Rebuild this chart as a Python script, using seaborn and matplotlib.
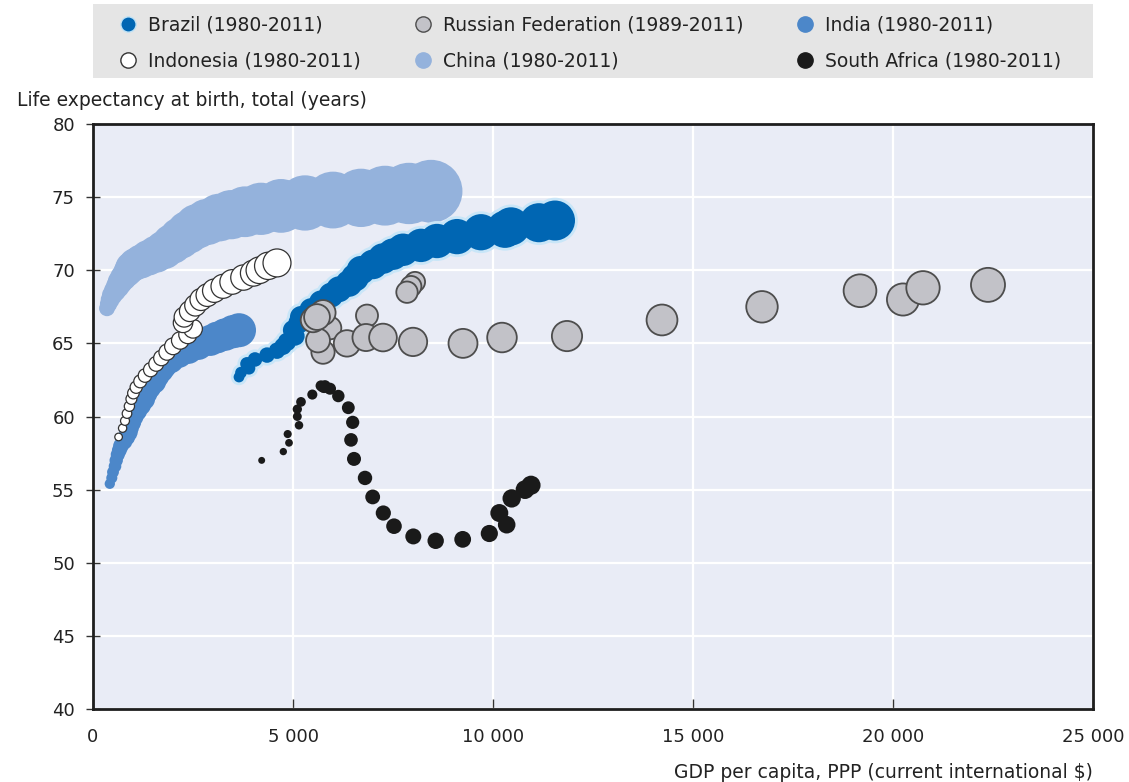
import numpy as np
import pandas as pd
import matplotlib
matplotlib.use('Agg')
import matplotlib.pyplot as plt
from matplotlib.lines import Line2D
from matplotlib.patches import Rectangle
import seaborn as sns

# ---- data ----
years_80 = list(range(1980, 2012))
years_89 = list(range(1989, 2012))

china_gdp = [350, 390, 430, 480, 550, 620, 680, 760, 850, 900, 950, 1050, 1200, 1380, 1580, 1780,
             1980, 2180, 2380, 2600, 2850, 3150, 3450, 3800, 4200, 4700, 5300, 6000, 6700, 7300, 7900, 8450]
china_life = [67.4, 67.7, 68.0, 68.3, 68.6, 68.9, 69.2, 69.5, 69.8, 70.0, 70.2, 70.4, 70.6, 70.85, 71.1, 71.4,
              71.8, 72.2, 72.6, 73.0, 73.3, 73.6, 73.8, 74.0, 74.2, 74.4, 74.6, 74.8, 74.95, 75.1, 75.25, 75.4]

india_gdp = [420, 470, 500, 550, 580, 620, 660, 700, 780, 840, 890, 910, 960, 1010, 1090, 1180,
             1270, 1320, 1400, 1520, 1590, 1690, 1760, 1930, 2140, 2380, 2630, 2930, 3100, 3300, 3500, 3650]
india_life = [55.4, 55.8, 56.2, 56.6, 57.0, 57.4, 57.7, 58.0, 58.3, 58.6, 58.9, 59.2, 59.6, 60.0, 60.4, 60.8,
              61.2, 61.6, 62.0, 62.4, 62.8, 63.2, 63.5, 63.9, 64.3, 64.6, 64.9, 65.2, 65.4, 65.6, 65.8, 65.9]

brazil_gdp = [3650, 3700, 3900, 3850, 4050, 4350, 4600, 4750, 4850, 5050, 5000, 5150, 5200, 5450, 5700, 5950,
              6150, 6400, 6550, 6700, 7000, 7250, 7500, 7750, 8200, 8600, 9100, 9700, 10300, 10450, 11150, 11550]
brazil_life = [62.7, 63.0, 63.3, 63.6, 63.9, 64.2, 64.5, 64.8, 65.1, 65.5, 65.9, 66.4, 66.8, 67.3, 67.8, 68.3,
               68.7, 69.1, 69.5, 70.0, 70.4, 70.8, 71.1, 71.4, 71.7, 72.0, 72.3, 72.6, 72.8, 73.0, 73.25, 73.4]

indonesia_gdp = [640, 740, 800, 850, 910, 960, 1010, 1080, 1180, 1300, 1440, 1580, 1710, 1850, 2000, 2180,
                 2370, 2500, 2250, 2280, 2420, 2560, 2700, 2860, 3030, 3250, 3480, 3760, 4010, 4160, 4380, 4600]
indonesia_life = [58.6, 59.2, 59.7, 60.2, 60.7, 61.2, 61.6, 62.0, 62.4, 62.8, 63.2, 63.6, 64.0, 64.4, 64.8, 65.2,
                  65.6, 66.0, 66.4, 66.8, 67.2, 67.6, 68.0, 68.3, 68.6, 68.9, 69.2, 69.5, 69.8, 70.0, 70.3, 70.5]

russia_gdp = [8050, 7950, 7850, 6850, 5925, 5750, 5625, 5500, 5750, 5600, 6350, 6825, 7250, 8000,
              9250, 10225, 11850, 14225, 16725, 20250, 19175, 20750, 22375]
russia_life = [69.2, 68.9, 68.5, 66.9, 66.05, 64.4, 65.2, 66.6, 67.1, 66.8, 65.0, 65.4, 65.4, 65.1,
               65.0, 65.4, 65.5, 66.6, 67.5, 68.0, 68.6, 68.8, 69.0]

safrica_gdp = [4217, 4758, 4900, 4867, 5150, 5108, 5108, 5200, 5483, 5742, 5700, 5800, 5780, 5925, 6133, 6383,
               6492, 6450, 6525, 6800, 6992, 7258, 7525, 8008, 8567, 9242, 9908, 10342, 10158, 10467, 10800, 10950]
safrica_life = [57.0, 57.6, 58.2, 58.8, 59.4, 60.0, 60.5, 61.0, 61.5, 62.0, 62.1, 62.1, 62.0, 61.9, 61.4, 60.6,
                59.6, 58.4, 57.1, 55.8, 54.5, 53.4, 52.5, 51.8, 51.5, 51.6, 52.0, 52.6, 53.4, 54.4, 55.0, 55.3]

x_ticks = [0, 5000, 10000, 15000, 20000, 25000]
x_labels = ['0', '5 000', '10 000', '15 000', '20 000', '25 000']
y_ticks = [40, 45, 50, 55, 60, 65, 70, 75, 80]

frames = []
for name, yrs, g, l in [('China', years_80, china_gdp, china_life),
                        ('India', years_80, india_gdp, india_life),
                        ('Brazil', years_80, brazil_gdp, brazil_life),
                        ('Indonesia', years_80, indonesia_gdp, indonesia_life),
                        ('Russian Federation', years_89, russia_gdp, russia_life),
                        ('South Africa', years_80, safrica_gdp, safrica_life)]:
    frames.append(pd.DataFrame({'country': name, 'year': yrs, 'gdp': g, 'life': l}))
df = pd.concat(frames, ignore_index=True)

# style per country: face, edge, edge width, marker area range (pt^2)
styles = {
    'China': ('#94b2dc', '#94b2dc', 0.0, (130, 2050)),
    'India': ('#4c87c9', '#4c87c9', 0.0, (55, 600)),
    'Brazil': ('#0066b3', '#0066b3', 0.0, (60, 830)),
    'Indonesia': ('#ffffff', '#333333', 0.9, (30, 405)),
    'Russian Federation': ('#c2c2c8', '#4d4d4d', 1.3, (210, 600)),
    'South Africa': ('#1a1a1a', '#1a1a1a', 0.0, (25, 190)),
}


def year_sizes(yrs, lo, hi):
    # bubble radius grows evenly from the first to the last year
    t = (np.array(yrs) - yrs[0]) / (yrs[-1] - yrs[0])
    r = np.sqrt(lo) + (np.sqrt(hi) - np.sqrt(lo)) * t
    return dict(zip(yrs, r ** 2))


sns.set_style('darkgrid', {'axes.facecolor': '#e9ecf6', 'grid.color': 'white'})
plt.rcParams['font.family'] = ['DejaVu Sans']

fig = plt.figure(figsize=(11.29, 7.82), dpi=100)
ax = fig.add_axes([93/1129, 1 - 709/782, 1000/1129, 585/782])

for i, (name, (fc, ec, lw, sz)) in enumerate(styles.items()):
    sub = df[df['country'] == name]
    sizes = year_sizes(sub['year'].tolist(), *sz)
    if name == 'Brazil':
        # light halo under the Brazil trail
        sns.scatterplot(data=sub, x='gdp', y='life', size='year', sizes=sizes, color='#c9e6f8',
                        edgecolor='#c9e6f8', linewidth=4, legend=False, ax=ax, zorder=3 + i)
    sns.scatterplot(data=sub, x='gdp', y='life', size='year', sizes=sizes, color=fc,
                    edgecolor=ec, linewidth=lw, legend=False, ax=ax, zorder=3 + i)

ax.set_xlim(0, 25000)
ax.set_ylim(40, 80)
ax.set_xticks(x_ticks)
ax.set_xticklabels(x_labels)
ax.set_yticks(y_ticks)
ax.grid(True, color='white', lw=1.6, zorder=0)
ax.set_axisbelow(True)
ax.set_xlabel('')
ax.set_ylabel('')
for s in ax.spines.values():
    s.set_visible(True)
    s.set_color('#1e1e1e')
    s.set_linewidth(2)
ax.tick_params(axis='x', direction='in', length=7, width=1, color='#333333', pad=14,
               labelsize=13, labelcolor='#222222', bottom=True)
ax.tick_params(axis='y', direction='inout', length=10, width=1, color='#333333', pad=8,
               labelsize=13, labelcolor='#222222', left=True)

fig.text(17/1129, 1 - 100/782, 'Life expectancy at birth, total (years)', ha='left', va='center',
         fontsize=13.5, color='#222222')
fig.text(1093/1129, 1 - 772/782, 'GDP per capita, PPP (current international $)', ha='right', va='center',
         fontsize=13.5, color='#222222')

# legend band
fig.patches.append(Rectangle((93/1129, 1 - 78/782), 1000/1129, 74/782, transform=fig.transFigure,
                             facecolor='#e5e5e5', edgecolor='none', zorder=0))


def handle(fc, ec):
    return Line2D([], [], marker='o', ls='', markersize=11, markerfacecolor=fc,
                  markeredgecolor=ec, markeredgewidth=1.0)


cols = [
    (119, [('Brazil (1980-2011)', '#0066b3', '#bfe2f6'), ('Indonesia (1980-2011)', '#ffffff', '#333333')]),
    (414, [('Russian Federation (1989-2011)', '#c2c2c8', '#4d4d4d'), ('China (1980-2011)', '#94b2dc', '#94b2dc')]),
    (796, [('India (1980-2011)', '#4c87c9', '#4c87c9'), ('South Africa (1980-2011)', '#1a1a1a', '#1a1a1a')]),
]
for x0, entries in cols:
    fig.legend([handle(fc, ec) for _, fc, ec in entries], [t for t, _, _ in entries],
               loc='center left', bbox_to_anchor=(x0/1129, 1 - 43/782), frameon=False,
               fontsize=13.5, handlelength=1.0, handletextpad=0.55, labelspacing=0.9,
               borderpad=0, borderaxespad=0, labelcolor='#222222')

fig.savefig('out.png', dpi=100)
